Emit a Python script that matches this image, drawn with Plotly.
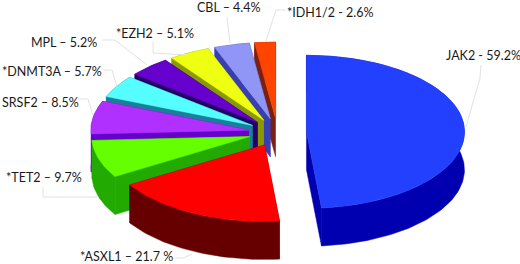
import math
import plotly.graph_objects as go

genes = ["JAK2", "*ASXL1", "*TET2", "SRSF2", "*DNMT3A", "MPL", "*EZH2", "CBL", "*IDH1/2"]
values = [59.2, 21.7, 9.7, 8.5, 5.7, 5.2, 5.1, 4.4, 2.6]
label_texts = ["JAK2 - 59.2%", "*ASXL1 – 21.7 %", "*TET2 – 9.7%", "SRSF2 – 8.5%", "*DNMT3A – 5.7%",
               "MPL – 5.2%", "*EZH2 – 5.1%", "CBL – 4.4%", "*IDH1/2 - 2.6%"]
top_colors = ["#2440FF", "#FF0000", "#66FF00", "#B030FF", "#55FFFF", "#6600CC", "#EEFF11", "#8F96F5", "#FF4400"]
side_colors = ["#0000B0", "#660000", "#22AA00", "#6600CC", "#1A7F9A", "#220066", "#8A9900", "#3A3FB0", "#7A2010"]

# geometry of the projected pie (pixels of the 520x264 page)
CX, CY, RX, RY, DEPTH, PULL, SQUASH = 277.5, 132.5, 158.0, 76.5, 38.0, 29.0, 0.48
label_pos = [(444, 55), (78, 256), (4, 177), (0, 102), (0, 71), (29, 42), (114, 33), (195, 7), (285, 12)]
leaders = [
    [(481, 65), (480, 78), (466, 127)], [(175, 258), (183, 258), (192, 254)],
    [(43, 187), (43, 197), (97, 197)], [(78, 99), (88, 99), (93, 115)],
    [(103, 70), (112, 70), (117, 87)], [(102, 40), (115, 40), (147, 65)],
    [(153, 42), (153, 53), (187, 55)], [(227, 17), (230, 43)], [(286, 10), (276, 10), (266, 41)],
]

fig = go.Figure()


def poly(xs, ys, color):
    fig.add_trace(go.Scatter(x=xs, y=ys, mode="lines", fill="toself", fillcolor=color,
                             line=dict(color=color, width=0.5), hoverinfo="skip", showlegend=False))


total = sum(values)
slices = []
start = 0.0
for v, top, side in zip(values, top_colors, side_colors):
    sweep = v / total * 2 * math.pi
    mid = start + sweep / 2
    ax = CX + PULL * math.sin(mid)
    ay = CY - PULL * SQUASH * math.cos(mid)
    slices.append((ay, ax, start, start + sweep, top, side))
    start += sweep

for ay, ax, a0, a1, top, side in sorted(slices, key=lambda s: s[0]):
    n = max(4, int((a1 - a0) * 40))
    angles = [a0 + (a1 - a0) * k / n for k in range(n + 1)]
    arc_x = [ax + RX * math.sin(t) for t in angles]
    arc_y = [ay - RY * math.cos(t) for t in angles]
    poly([ax, arc_x[0], arc_x[0], ax], [ay, arc_y[0], arc_y[0] + DEPTH, ay + DEPTH], side)
    poly([ax, arc_x[-1], arc_x[-1], ax], [ay, arc_y[-1], arc_y[-1] + DEPTH, ay + DEPTH], side)
    poly(arc_x + arc_x[::-1], arc_y + [y + DEPTH for y in arc_y[::-1]], side)
    poly([ax] + arc_x + [ax], [ay] + arc_y + [ay], top)

for pts in leaders:
    fig.add_trace(go.Scatter(x=[p[0] for p in pts], y=[p[1] for p in pts], mode="lines",
                             line=dict(color="#E2E2E2", width=1), hoverinfo="skip", showlegend=False))

for text, (x, y) in zip(label_texts, label_pos):
    fig.add_annotation(x=x, y=y, text=text, showarrow=False, xanchor="left", yanchor="middle",
                       font=dict(family="Lato", size=12.5, color="#1a1a1a"))

fig.update_layout(
    width=520, height=264, margin=dict(l=0, r=0, t=0, b=0),
    paper_bgcolor="white", plot_bgcolor="white", showlegend=False,
    xaxis=dict(range=[0, 520], visible=False, fixedrange=True),
    yaxis=dict(range=[264, 0], visible=False, fixedrange=True),
)
fig.write_html("out.html", config={"displayModeBar": False},
               post_script="document.body.style.margin='0';document.body.style.overflow='hidden';")
